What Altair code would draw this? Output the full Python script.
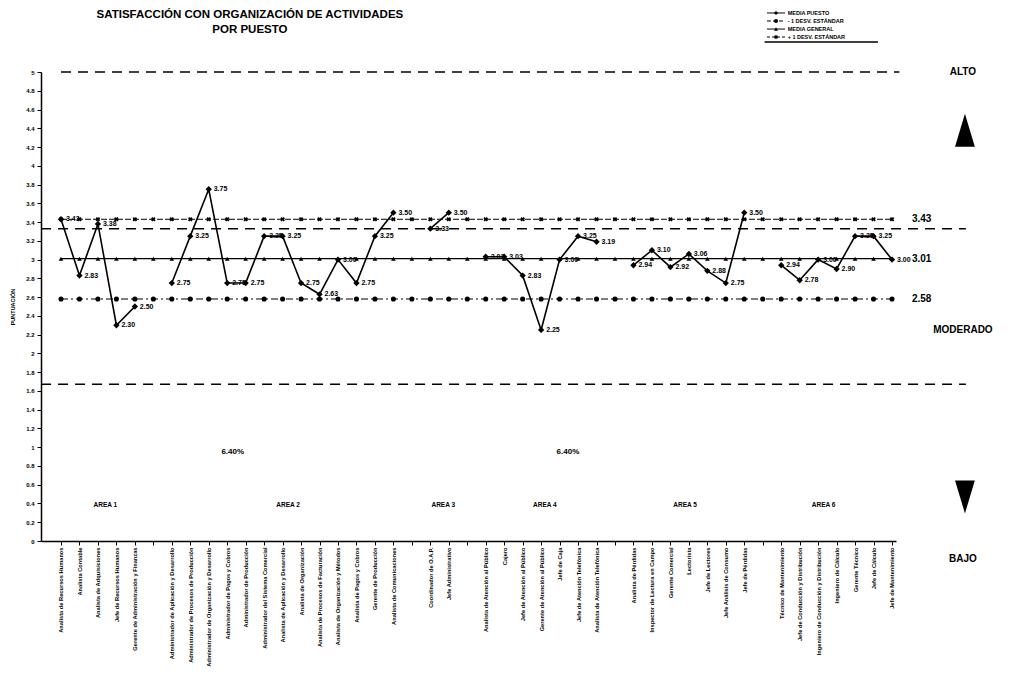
import json
import altair as alt
import pandas as pd

# ---------------- data ----------------
puestos = [
    "Analista de Recursos Humanos", "Analista Contable", "Analista de Adquisiciones",
    "Jefe de Recursos Humanos", "Gerente de Administración y Finanzas", "",
    "Administrador de Aplicación y Desarrollo", "Administrador de Procesos de Producción",
    "Administrador de Organización y Desarrollo", "Administrador de Pagos y Cobros",
    "Administrador de Producción", "Administrador del Sistema Comercial",
    "Analista de Aplicación y Desarrollo", "Analista de Organización",
    "Analista de Procesos de Facturación", "Analista de Organización y Métodos",
    "Analista de Pagos y Cobros", "Gerente de Producción", "Analista de Comunicaciones", "",
    "Coordinador de O.A.P.", "Jefe Administrativo", "",
    "Analista de Atención al Público", "Cajero", "Jefe de Atención al Público",
    "Gerente de Atención al Público", "Jefe de Caja", "Jefe de Atención Telefónica",
    "Analista de Atención Telefónica", "",
    "Analista de Pérdidas", "Inspector de Lectura en Campo", "Gerente Comercial",
    "Lectorista", "Jefe de Lectores", "Jefe Análisis de Consumo", "Jefe de Pérdidas", "",
    "Técnico de Mantenimiento", "Jefe de Conducción y Distribución",
    "Ingeniero de Conducción y Distribución", "Ingeniero de Cálculo", "Gerente Técnico",
    "Jefe de Cálculo", "Jefe de Mantenimiento",
]

area_nombres = ["AREA 1", "AREA 2", "AREA 3", "AREA 4", "AREA 5", "AREA 6"]
area_inicio = [0, 6, 20, 23, 31, 39]
media_puesto_por_area = [
    [3.43, 2.83, 3.38, 2.30, 2.50],
    [2.75, 3.25, 3.75, 2.75, 2.75, 3.25, 3.25, 2.75, 2.63, 3.00, 2.75, 3.25, 3.50],
    [3.33, 3.50],
    [3.03, 3.03, 2.83, 2.25, 3.00, 3.25, 3.19],
    [2.94, 3.10, 2.92, 3.06, 2.88, 2.75, 3.50],
    [2.94, 2.78, 3.00, 2.90, 3.25, 3.25, 3.00],
]
area_etiqueta_x = [2.4, 12.3, 20.7, 26.2, 33.8, 41.3]
area_etiqueta_y = 0.38

media_general = 3.01
desv_superior = 3.43
desv_inferior = 2.58

zonas_y = [5.0, 3.33, 1.67]
zonas_x0 = [0.0, -1.08, -1.08]
zonas_x1 = [45.4, 49.0, 49.0]

porcentajes = ["6.40%", "6.40%"]
porcentajes_x = [9.3, 27.45]
porcentajes_y = 0.95

X_MIN, X_MAX = -1.083, 45.217
FONT = "Liberation Sans"

# ---------------- tables ----------------
n = len(puestos)
rows = []
for a, ini, vals in zip(area_nombres, area_inicio, media_puesto_por_area):
    for i, v in enumerate(vals):
        rows.append({"pos": ini + i, "valor": v, "area": a, "lab": f"{v:.2f}"})
df_mp = pd.DataFrame(rows)

df_ref = pd.DataFrame({
    "pos": list(range(n)),
    "sup": [desv_superior] * n,
    "gen": [media_general] * n,
    "inf": [desv_inferior] * n,
})

df_zonas = pd.DataFrame({"x0": zonas_x0, "x1": zonas_x1, "y": zonas_y})

xs = alt.Scale(domain=[X_MIN, X_MAX], nice=False, zero=False)
ys = alt.Scale(domain=[0, 5], nice=False, zero=False)

label_expr = json.dumps(puestos, ensure_ascii=False) + "[datum.value]"
xaxis = alt.Axis(values=list(range(n)), labelExpr=label_expr, labelAngle=-90,
                 labelAlign="right", labelBaseline="middle",
                 labelFontSize=5.7, labelFont=FONT, labelFontWeight="bold",
                 labelColor="black", labelPadding=2, tickSize=4, tickColor="black",
                 domainColor="black", domainWidth=1.5, grid=False,
                 labelOverlap=False, labelLimit=400, title=None)
yaxis = alt.Axis(values=[round(i * 0.2, 1) for i in range(26)], format=".1~f",
                 labelFontSize=6, labelFont=FONT, labelFontWeight="bold",
                 labelColor="black", labelPadding=3, tickSize=4, tickColor="black",
                 domainColor="black", domainWidth=1.5, grid=False, labelOverlap=False,
                 title="PUNTUACIÓN", titleFont=FONT, titleFontSize=5.5,
                 titleFontWeight="bold", titleColor="black", titlePadding=10)


def X(f):
    return alt.X(f, type="quantitative", scale=xs, axis=xaxis)


def X2(f):
    return alt.X2(f)


def Y(f):
    return alt.Y(f, type="quantitative", scale=ys, axis=yaxis)


layers = []

# zone dashed lines
layers.append(alt.Chart(df_zonas).mark_rule(color="black", strokeWidth=1.5,
                                            strokeDash=[10, 7]).encode(
    x=X("x0"), x2=X2("x1"), y=Y("y")))

base_ref = alt.Chart(df_ref)
# +1 desv
layers.append(base_ref.mark_line(color="black", strokeWidth=1, strokeDash=[6, 2]).encode(
    x=X("pos"), y=Y("sup")))
layers.append(base_ref.mark_point(shape="cross", angle=45, filled=True, color="black",
                                  size=22, opacity=1).encode(x=X("pos"), y=Y("sup")))
# media general
layers.append(base_ref.mark_line(color="black", strokeWidth=1.3).encode(
    x=X("pos"), y=Y("gen")))
layers.append(base_ref.mark_point(shape="triangle-up", filled=True, color="black",
                                  size=22, opacity=1).encode(x=X("pos"), y=Y("gen")))
# -1 desv
layers.append(base_ref.mark_line(color="black", strokeWidth=1.2,
                                 strokeDash=[7, 3, 2, 3]).encode(x=X("pos"), y=Y("inf")))
layers.append(base_ref.mark_point(shape="circle", filled=True, color="black",
                                  size=26, opacity=1).encode(x=X("pos"), y=Y("inf")))

# media puesto
base_mp = alt.Chart(df_mp)
layers.append(base_mp.mark_line(color="black", strokeWidth=1.6).encode(
    x=X("pos"), y=Y("valor"), detail="area:N"))
layers.append(base_mp.mark_point(shape="diamond", filled=True, color="black",
                                 size=40, opacity=1).encode(x=X("pos"), y=Y("valor")))
layers.append(base_mp.mark_text(align="left", baseline="middle", dx=5, fontSize=7,
                                font=FONT, fontWeight="bold", color="black").encode(
    x=X("pos"), y=Y("valor"), text="lab:N"))

# right-side values
df_der = pd.DataFrame({"x": [46.08] * 3,
                       "y": [desv_superior, media_general, desv_inferior],
                       "t": [f"{desv_superior:.2f}", f"{media_general:.2f}",
                             f"{desv_inferior:.2f}"]})
layers.append(alt.Chart(df_der).mark_text(align="left", baseline="middle", fontSize=10,
                                          font=FONT, fontWeight="bold", color="black").encode(
    x=X("x"), y=Y("y"), text="t:N"))

# zone names
df_zn = pd.DataFrame({"x": [48.84] * 3, "y": [5.0, 2.25, -0.19],
                      "t": ["ALTO", "MODERADO", "BAJO"]})
layers.append(alt.Chart(df_zn).mark_text(align="center", baseline="middle", fontSize=10,
                                         font=FONT, fontWeight="bold", color="black").encode(
    x=X("x"), y=Y("y"), text="t:N"))

# arrows
df_up = pd.DataFrame({"x": [48.95], "y": [4.38]})
df_dn = pd.DataFrame({"x": [48.95], "y": [0.47]})
layers.append(alt.Chart(df_up).mark_point(shape="M-0.6,1L0,-1L0.6,1Z", filled=True,
                                          color="black", size=1089, opacity=1).encode(
    x=X("x"), y=Y("y")))
layers.append(alt.Chart(df_dn).mark_point(shape="M-0.6,-1L0,1L0.6,-1Z", filled=True,
                                          color="black", size=1089, opacity=1).encode(
    x=X("x"), y=Y("y")))

# area labels and percentages
df_areas = pd.DataFrame({"x": area_etiqueta_x, "y": [area_etiqueta_y] * 6, "t": area_nombres})
layers.append(alt.Chart(df_areas).mark_text(fontSize=6.5, font=FONT, fontWeight="bold",
                                            color="black").encode(
    x=X("x"), y=Y("y"), text="t:N"))
df_pct = pd.DataFrame({"x": porcentajes_x, "y": [porcentajes_y] * 2, "t": porcentajes})
layers.append(alt.Chart(df_pct).mark_text(fontSize=8, font=FONT, fontWeight="bold",
                                          color="black").encode(
    x=X("x"), y=Y("y"), text="t:N"))

# title
df_tit = pd.DataFrame({"x": [10.23, 10.23], "y": [5.61, 5.45],
                       "t": ["SATISFACCIÓN CON ORGANIZACIÓN DE ACTIVIDADES", "POR PUESTO"]})
layers.append(alt.Chart(df_tit).mark_text(fontSize=11.5, font=FONT, fontWeight="bold",
                                          color="black").encode(
    x=X("x"), y=Y("y"), text="t:N"))

# legend (manual)
leg_nombres = ["MEDIA PUESTO", "- 1 DESV. ESTÁNDAR", "MEDIA GENERAL", "+ 1 DESV. ESTÁNDAR"]
leg_y = [5.629, 5.544, 5.458, 5.373]
leg_dash = [[1, 0], [4, 2], [1, 0], [3, 2]]
leg_shape = ["diamond", "circle", "triangle-up", "cross"]
leg_angle = [0, 0, 0, 45]
for nm, yy, dsh, shp, ang in zip(leg_nombres, leg_y, leg_dash, leg_shape, leg_angle):
    d = pd.DataFrame({"x0": [38.23], "x1": [39.21], "xm": [38.72], "y": [yy],
                      "xt": [39.35], "t": [nm]})
    c = alt.Chart(d)
    layers.append(c.mark_rule(color="black", strokeWidth=1, strokeDash=dsh).encode(
        x=X("x0"), x2=X2("x1"), y=Y("y")))
    layers.append(c.mark_point(shape=shp, angle=ang, filled=True, color="black", size=16,
                               opacity=1).encode(x=X("xm"), y=Y("y")))
    layers.append(c.mark_text(align="left", baseline="middle", fontSize=5.5, font=FONT,
                              fontWeight="bold", color="black").encode(
        x=X("xt"), y=Y("y"), text="t:N"))

df_borde = pd.DataFrame({"x0": [38.1, 38.1], "x1": [44.24, 44.24], "y": [5.693, 5.32]})
layers.append(alt.Chart(df_borde).mark_rule(color="black", strokeWidth=1.3).encode(
    x=X("x0"), x2=X2("x1"), y=Y("y")))

chart = alt.layer(*layers).properties(
    width=855, height=469,
    autosize=alt.AutoSizeParams(type="none"),
    padding={"left": 33, "top": 64, "right": 107, "bottom": 135},
    background="white",
).configure_view(stroke=None)

chart.save("out.html", embed_options={"renderer": "svg", "actions": False})
